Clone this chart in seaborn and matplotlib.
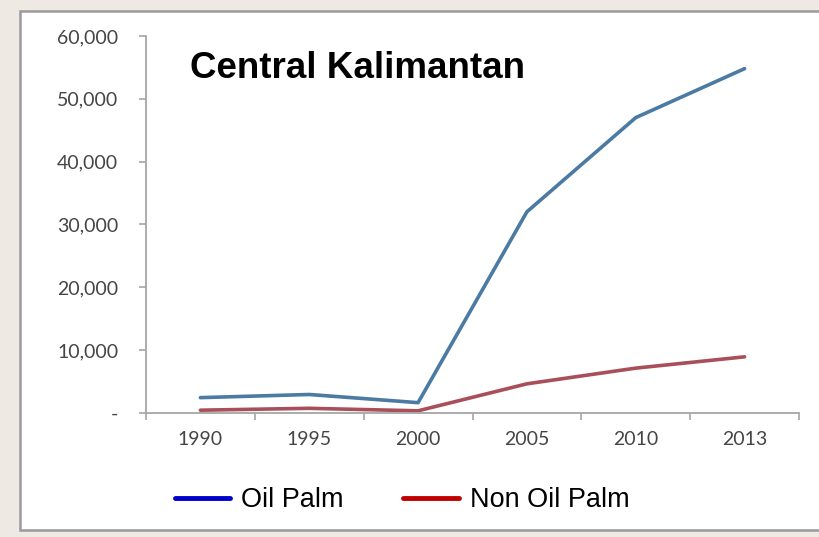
import matplotlib
matplotlib.use("Agg")
import matplotlib.pyplot as plt
from matplotlib.patches import Rectangle
from matplotlib.lines import Line2D
from matplotlib.ticker import FixedLocator
import seaborn as sns
import pandas as pd

years = ["1990", "1995", "2000", "2005", "2010", "2013"]
oil_palm = [2400, 2900, 1600, 32000, 47000, 54800]
non_oil_palm = [400, 700, 300, 4600, 7100, 8900]
y_ticks = [0, 10000, 20000, 30000, 40000, 50000, 60000]
y_tick_labels = ["-", "10,000", "20,000", "30,000", "40,000", "50,000", "60,000"]
series_names = ["Oil Palm", "Non Oil Palm"]
title = "Central Kalimantan"

df = pd.concat([
    pd.DataFrame({"Year": years, "Area": oil_palm, "Type": series_names[0]}),
    pd.DataFrame({"Year": years, "Area": non_oil_palm, "Type": series_names[1]}),
])

sns.set_theme(style="white")
plt.rcParams["font.family"] = ["Liberation Sans", "DejaVu Sans"]

W, H = 819, 537
fig = plt.figure(figsize=(W / 100, H / 100), dpi=100)
fig.patch.set_facecolor("#eeeae3")
# white panel with grey frame
fig.add_artist(Rectangle((20 / W, 1 - 530 / H), (W - 19) / W, (530 - 11) / H,
                         transform=fig.transFigure, facecolor="white",
                         edgecolor="#9a9a9a", linewidth=1.8, zorder=0))

ax = fig.add_axes([146 / W, 1 - 412.7 / H, (799 - 146) / W, (412.7 - 36) / H])
ax.set_facecolor("none")

line_colors = {"Oil Palm": "#4b7aa3", "Non Oil Palm": "#a84f5a"}
sns.lineplot(data=df, x="Year", y="Area", hue="Type", palette=line_colors,
             linewidth=2.6, ax=ax, legend=False, sort=False)

ax.set_xlim(-0.5, len(years) - 0.5)
ax.set_ylim(0, 60000)
ax.set_yticks(y_ticks)
ax.set_yticklabels(y_tick_labels)
ax.set_xlabel("")
ax.set_ylabel("")

for s in ["top", "right"]:
    ax.spines[s].set_visible(False)
for s in ["left", "bottom"]:
    ax.spines[s].set_color("#a6a6a6")
    ax.spines[s].set_linewidth(1.3)

for lbl in ax.get_yticklabels() + ax.get_xticklabels():
    lbl.set_fontfamily(["Lato", "DejaVu Sans"])
    lbl.set_fontsize(14)
    lbl.set_color("#454545")

ax.tick_params(axis="y", which="major", left=True, length=5, width=1.2,
               color="#a6a6a6", pad=15)
ax.tick_params(axis="x", which="major", bottom=False, length=0, pad=13)
ax.xaxis.set_minor_locator(FixedLocator([i - 0.5 for i in range(len(years) + 1)]))
ax.tick_params(axis="x", which="minor", bottom=True, length=5, width=1.2,
               color="#a6a6a6")

fig.text(190 / W, 1 - 68 / H, title, fontsize=26.5, fontweight="bold",
         ha="left", va="center", color="black")

handles = [Line2D([0], [0], color="#0000cc", linewidth=3.5, solid_capstyle="round"),
           Line2D([0], [0], color="#c00000", linewidth=3.5, solid_capstyle="round")]
fig.legend(handles, series_names, loc="center", bbox_to_anchor=(402 / W, 1 - 500 / H),
           ncol=2, frameon=False, fontsize=19.5, handlelength=2.05,
           handletextpad=0.4, columnspacing=2.2, borderpad=0, labelcolor="black")

fig.savefig("out.png", dpi=100)
